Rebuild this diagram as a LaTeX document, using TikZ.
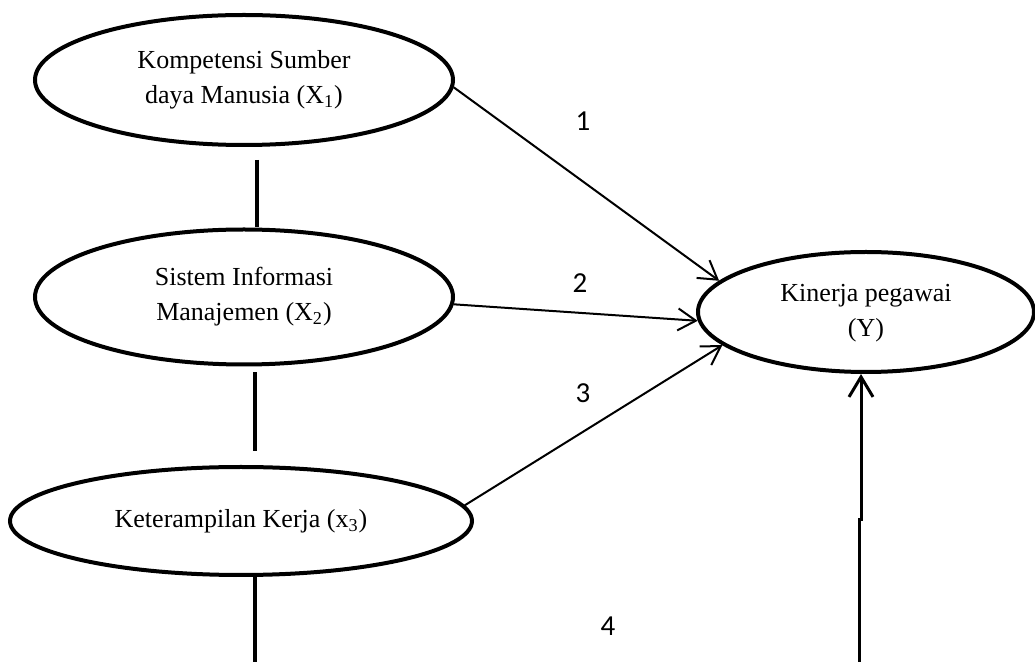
\documentclass[tikz,border=0pt]{standalone}
\usepackage{fontspec}
\setmainfont{Liberation Serif}
\newfontfamily\numfont{Carlito}
\usetikzlibrary{shapes.geometric,arrows.meta,calc}
\begin{document}
\begin{tikzpicture}[x=0.5pt,y=-0.5pt,
  var/.style={ellipse,draw,line width=2pt,inner sep=0pt,align=center,
    font=\fontsize{13}{17.5}\selectfont},
  link/.style={line width=1.7pt},
  arr/.style={line width=1pt,-{Straight Barb[length=9pt,width=11pt]}},
  arrb/.style={line width=1.5pt,-{Straight Barb[length=10pt,width=12pt]}},
  num/.style={font=\numfont\fontsize{14.5}{17}\selectfont}]
\useasboundingbox (0,0) rectangle (1035,662);
\node[var,minimum width=209pt,minimum height=65pt] (X1) at (244,80)
  {Kompetensi Sumber\\daya Manusia (X\textsubscript{1})};
\node[var,minimum width=209pt,minimum height=67.5pt] (X2) at (244,297)
  {Sistem Informasi\\Manajemen (X\textsubscript{2})};
\node[var,minimum width=231pt,minimum height=54pt] (X3) at (241,521)
  {Keterampilan Kerja (x\textsubscript{3})};
\node[var,minimum width=168pt,minimum height=60pt] (Y) at (866,312)
  {\raisebox{-3pt}{\begin{tabular}{@{}c@{}}Kinerja pegawai\\(Y)\end{tabular}}};
% correlation lines
\coordinate (bot) at (255,662);
\draw[link] ($(X1.south)+(13,13)$) -- ($(X2.north)+(13,0)$);
\draw[link] ($(X2.south)+(11,6)$) -- ($(X3.north)+(14,-14)$);
\draw[link] ($(X3.south)+(14,0)$) -- (bot);
% paths
\draw[arr] (X1.-2) -- (Y.168);
\draw[arr] (X2.-2) -- (Y.183);
\draw[arr] (X3.4) -- (Y.193);
\coordinate (b4) at (859,662);
\coordinate (j4) at (861,520);
\draw[arrb] (b4) |- (j4) -- (j4 |- Y.south);
% labels
\node[num] (n1) at (583,121) {1};
\node[num] (n2) at (580,283) {2};
\node[num] (n3) at (583,393) {3};
\node[num] (n4) at (608,626) {4};
\end{tikzpicture}
\end{document}
